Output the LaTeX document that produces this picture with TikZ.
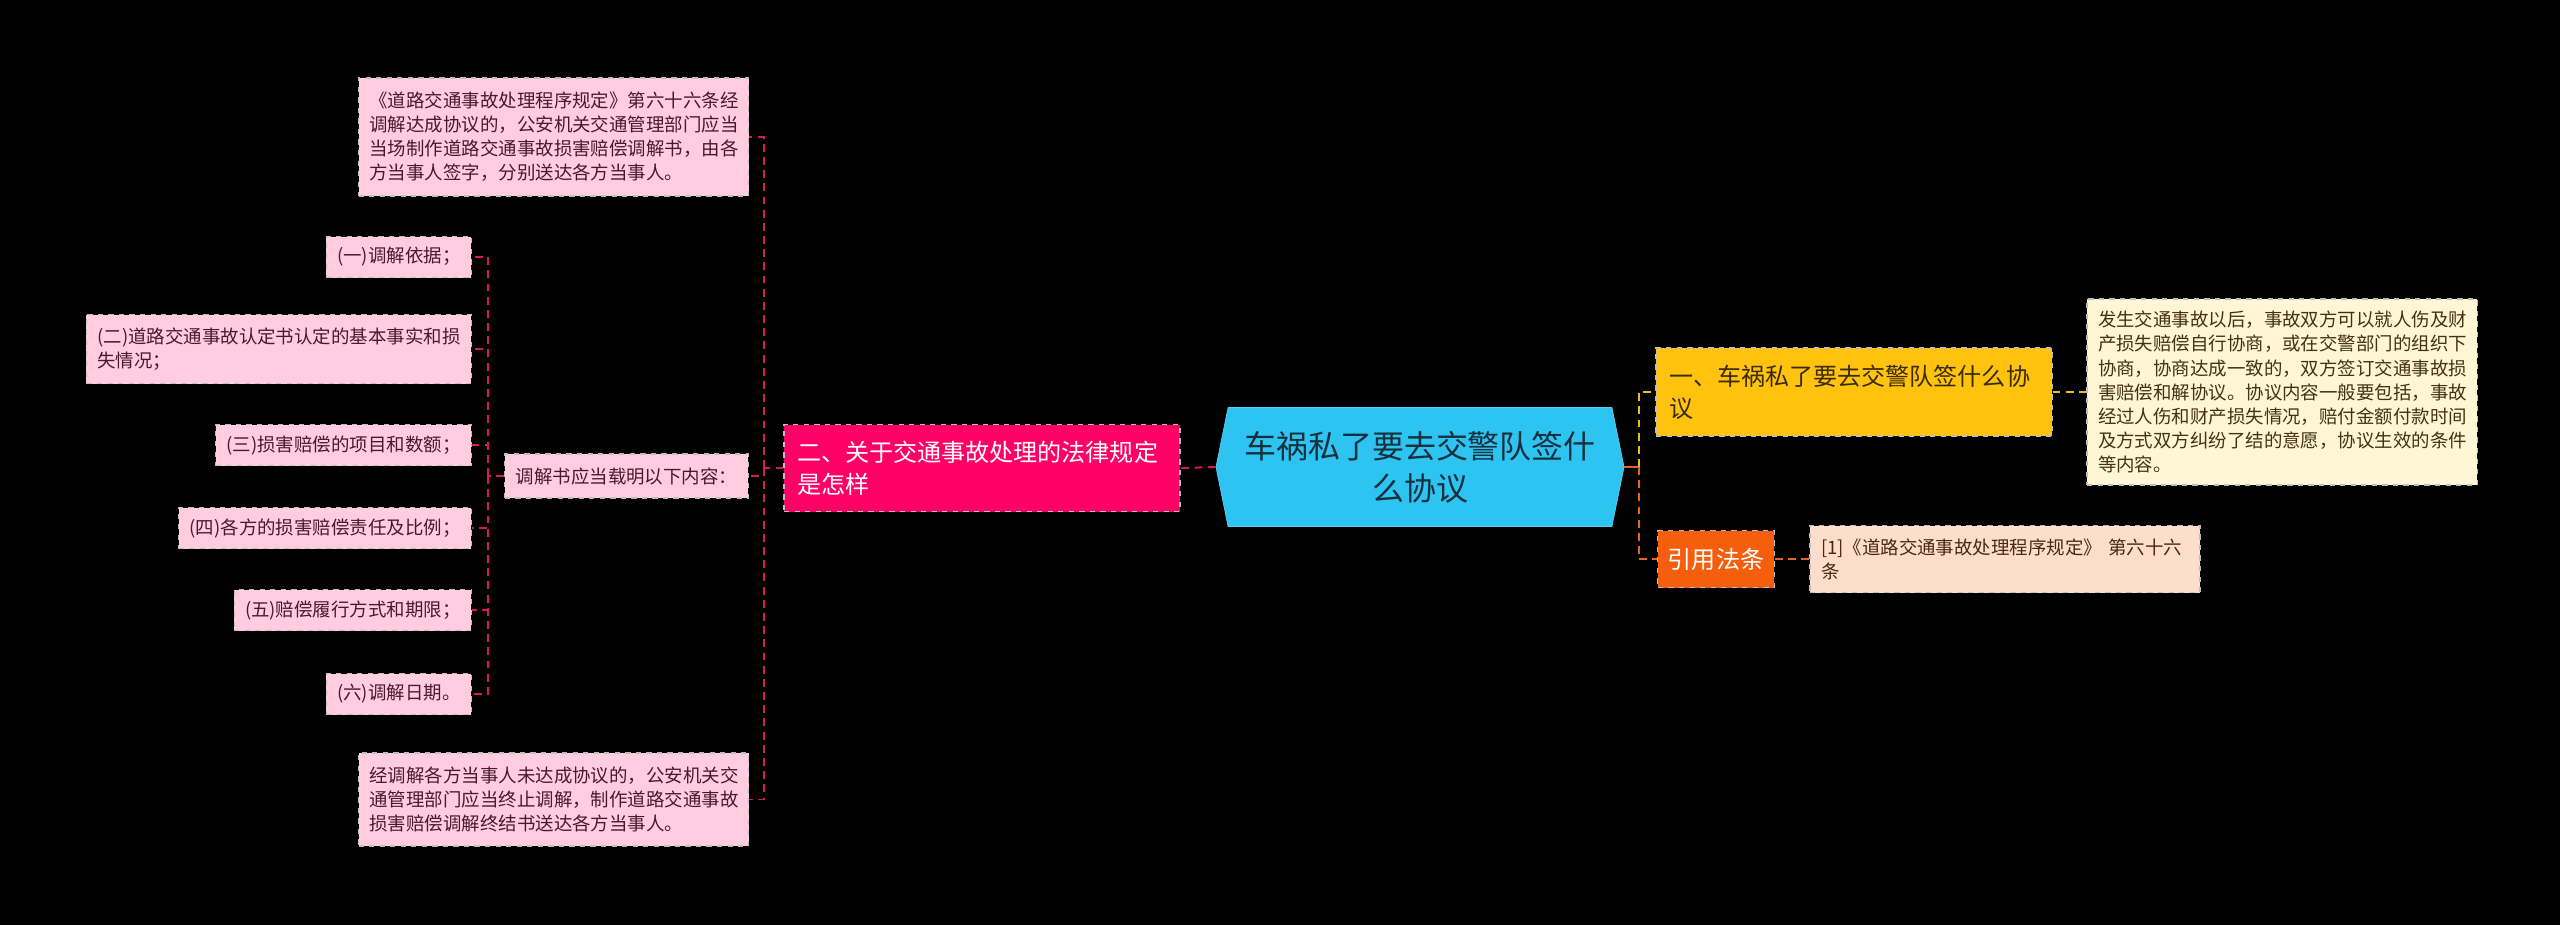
\documentclass[tikz,border=0pt]{standalone}
\usepackage{fontspec}
\setmainfont{Noto Sans CJK SC}
\usepackage{tikz}
\usetikzlibrary{shapes.symbols, positioning}
\definecolor{rootblue}{RGB}{46,196,242}
\definecolor{roottext}{RGB}{22,48,62}
\definecolor{hotpink}{RGB}{255,0,102}
\definecolor{leafpink}{RGB}{255,204,224}
\definecolor{leaftext}{RGB}{78,24,44}
\definecolor{linkpink}{RGB}{214,28,88}
\definecolor{goldfill}{RGB}{255,194,14}
\definecolor{goldtext}{RGB}{58,44,0}
\definecolor{creamfill}{RGB}{255,246,214}
\definecolor{creamtext}{RGB}{68,50,20}
\definecolor{linkgold}{RGB}{232,192,30}
\definecolor{redorange}{RGB}{244,94,12}
\definecolor{peachfill}{RGB}{253,221,204}
\definecolor{peachtext}{RGB}{74,40,24}
\definecolor{linkorange}{RGB}{230,100,30}
\definecolor{boxedge}{RGB}{190,190,190}
\tikzset{
  link/.style={line width=1.1pt, dash pattern=on 4.5pt off 3pt},
  leaf/.style={rectangle, draw=boxedge, fill=leafpink, text=leaftext,
    dashed, line width=0.6pt, font=\fontsize{10.5}{13.7}\selectfont,
    inner xsep=0.22cm, inner ysep=0pt, minimum height=0.82cm, align=left},
  branch/.style={rectangle, draw=boxedge, dashed, line width=0.6pt,
    font=\fontsize{13.7}{18.2}\selectfont, inner xsep=0.26cm, inner ysep=0pt,
    align=left},
  rootnode/.style={signal, signal to=east and west, signal pointer angle=157,
    fill=rootblue, draw=rootblue!80!white, text=roottext, align=center,
    font=\fontsize{18.2}{23.9}\selectfont, minimum width=8.16cm,
    minimum height=2.38cm, inner sep=0pt}
}
\begin{document}
\begin{tikzpicture}
  \useasboundingbox (0,0) rectangle (51.2,-18.5);
  \fill[black] (0,0) rectangle (51.2,-18.5);

  % Central topic
  \node[rootnode] (root) at (28.40,-9.34) {车祸私了要去交警队签什\\么协议};

  % Left branch
  \node[branch, fill=hotpink, text=white, text width=7.4cm, minimum height=1.74cm] (laws) at (19.64,-9.36)
    {二、关于交通事故处理的法律规定\\是怎样};
  \node[leaf, text width=7.36cm, minimum height=2.36cm] (rule66) at (11.07,-2.74) {
    《道路交通事故处理程序规定》第六十六条经\\
    调解达成协议的，公安机关交通管理部门应当\\
    当场制作道路交通事故损害赔偿调解书，由各\\
    方当事人签字，分别送达各方当事人。};
  \node[leaf, minimum height=0.88cm] (content) at (12.53,-9.52) {调解书应当载明以下内容：};
  \node[leaf, text width=7.36cm, minimum height=1.86cm] (endnote) at (11.07,-15.99) {
    经调解各方当事人未达成协议的，公安机关交\\
    通管理部门应当终止调解，制作道路交通事故\\
    损害赔偿调解终结书送达各方当事人。};

  % Items of the mediation paper
  \node[leaf, anchor=east] (item1) at (9.44,-5.14) {(一)调解依据；};
  \node[leaf, anchor=east, minimum height=1.38cm] (item2) at (9.44,-6.98)
    {(二)道路交通事故认定书认定的基本事实和损\\失情况；};
  \node[leaf, anchor=east] (item3) at (9.44,-8.90) {(三)损害赔偿的项目和数额；};
  \node[leaf, anchor=east] (item4) at (9.44,-10.56) {(四)各方的损害赔偿责任及比例；};
  \node[leaf, anchor=east] (item5) at (9.44,-12.20) {(五)赔偿履行方式和期限；};
  \node[leaf, anchor=east] (item6) at (9.44,-13.88) {(六)调解日期。};

  % Right branch
  \node[branch, fill=goldfill, text=goldtext, text width=7.4cm, minimum height=1.76cm] (agree) at (37.08,-7.84)
    {一、车祸私了要去交警队签什么协\\议};
  \node[leaf, fill=creamfill, text=creamtext, text width=7.36cm, minimum height=3.72cm] (detail) at (45.64,-7.84) {
    发生交通事故以后，事故双方可以就人伤及财\\
    产损失赔偿自行协商，或在交警部门的组织下\\
    协商，协商达成一致的，双方签订交通事故损\\
    害赔偿和解协议。协议内容一般要包括，事故\\
    经过人伤和财产损失情况，赔付金额付款时间\\
    及方式双方纠纷了结的意愿，协议生效的条件\\
    等内容。};
  \node[branch, fill=redorange, text=white, minimum height=1.14cm, inner xsep=0.2cm] (cite) at (34.32,-11.18) {引用法条};
  \node[leaf, fill=peachfill, text=peachtext, text width=7.36cm, minimum height=1.34cm] (citelaw) at (40.10,-11.18)
    {[1]《道路交通事故处理程序规定》 第六十六\\条};

  % Connectors
  \coordinate (hubL) at (15.28,-9.36);
  \coordinate (hubI) at (9.76,-9.52);
  \coordinate (hubR) at (32.78,-9.34);
  \draw[link, linkpink] (root.west) -- (laws.east);
  \draw[link, linkpink] (laws.west) -- (hubL);
  \foreach \n in {rule66, content, endnote}
    \draw[link, linkpink] (hubL) |- (\n.east);
  \draw[link, linkpink] (content.west) -- (hubI);
  \foreach \n in {item1, item2, item3, item4, item5, item6}
    \draw[link, linkpink] (hubI) |- (\n.east);
  \draw[line width=1.1pt, linkorange] (root.east) -- (hubR);
  \draw[link, linkgold] (hubR) |- (agree.west);
  \draw[link, linkorange] (hubR) |- (cite.west);
  \draw[link, linkgold] (agree.east) -- (detail.west);
  \draw[link, linkorange] (cite.east) -- (citelaw.west);
\end{tikzpicture}
\end{document}
